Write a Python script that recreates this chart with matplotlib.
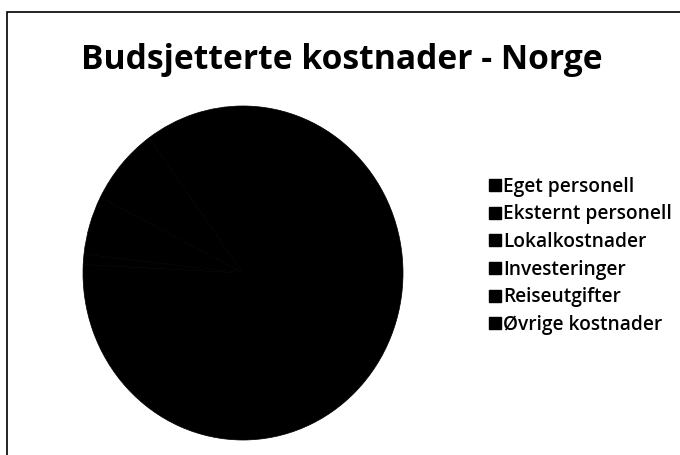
import matplotlib
matplotlib.use("Agg")
import matplotlib.pyplot as plt
from matplotlib.lines import Line2D
from matplotlib.patches import Rectangle

title = "Budsjetterte kostnader - Norge"
categories = ["Eget personell", "Eksternt personell", "Lokalkostnader",
              "Investeringer", "Reiseutgifter", "Øvrige kostnader"]
values = [50.0, 25.8, 1.0, 5.7, 7.5, 10.0]
slice_colors = ["#000000", "#000000", "#000000", "#000000", "#000000", "#000000"]

fig = plt.figure(figsize=(6.8, 4.55), dpi=100)
fig.patch.set_facecolor("white")

# frame border
fig.add_artist(Rectangle((7 / 680, -0.05), 1.2, (455 - 12) / 455 + 0.05,
                         transform=fig.transFigure, fill=False,
                         edgecolor="black", linewidth=1.2))

fig.text(342 / 680, 1 - 60 / 455, title, ha="center", va="center",
         fontsize=24.2, fontweight="bold", family=["Open Sans", "DejaVu Sans"],
         color="black")

ax = fig.add_axes([(243 - 160) / 680, (455 - 273 - 167) / 455, 320 / 680, 334 / 455])
wedges, _ = ax.pie(values, colors=slice_colors, startangle=90, counterclock=False,
                   wedgeprops=dict(edgecolor="black", linewidth=0.5))
ax.set_aspect("auto")
ax.set_xlim(-1.0, 1.0)
ax.set_ylim(-1.0, 1.0)
ax.axis("off")

handles = [Line2D([], [], marker="s", linestyle="none", markersize=8,
                  markerfacecolor="black", markeredgecolor="black")
           for _ in categories]
leg = fig.legend(handles, categories, loc="upper left",
                 bbox_to_anchor=(482 / 680, 1 - 169 / 455),
                 frameon=False, handlelength=0.6, handletextpad=0.12,
                 labelspacing=0.4, borderaxespad=0,
                 prop=dict(family=["Open Sans", "DejaVu Sans"], size=13.8,
                           weight="semibold"))

fig.savefig("out.png", dpi=100, facecolor="white")
